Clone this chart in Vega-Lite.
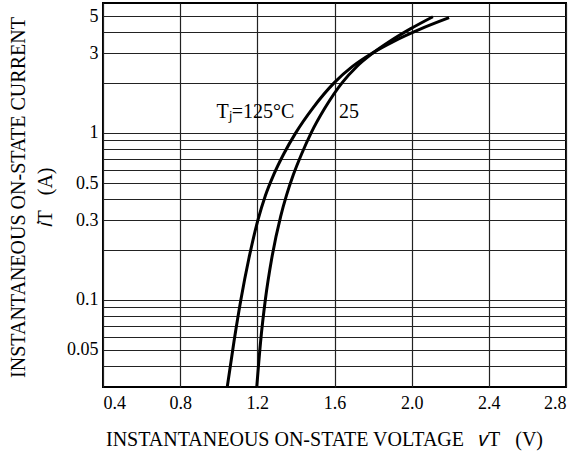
{
  "$schema": "https://vega.github.io/schema/vega-lite/v6.json",
  "width": 463,
  "height": 384,
  "autosize": {"type": "none"},
  "padding": {"left": 103, "top": 3, "right": 20, "bottom": 67},
  "background": "white",
  "config": {
    "view": {"stroke": "black", "strokeWidth": 2},
    "font": "Liberation Serif"
  },
  "datasets": {
    "curves": [
      {"series": "125", "v": 1.044, "i": 0.03},
      {"series": "125", "v": 1.079, "i": 0.0562},
      {"series": "125", "v": 1.1147, "i": 0.1},
      {"series": "125", "v": 1.1567, "i": 0.1778},
      {"series": "125", "v": 1.2029, "i": 0.2999},
      {"series": "125", "v": 1.2419, "i": 0.4217},
      {"series": "125", "v": 1.285, "i": 0.5623},
      {"series": "125", "v": 1.3374, "i": 0.7499},
      {"series": "125", "v": 1.399, "i": 1.0},
      {"series": "125", "v": 1.4886, "i": 1.4125},
      {"series": "125", "v": 1.5992, "i": 2.0},
      {"series": "125", "v": 1.6934, "i": 2.5003},
      {"series": "125", "v": 1.7946, "i": 2.999},
      {"series": "125", "v": 1.9097, "i": 3.548},
      {"series": "125", "v": 2.0414, "i": 4.169},
      {"series": "125", "v": 2.194, "i": 4.898},
      {"series": "25", "v": 1.197, "i": 0.03},
      {"series": "25", "v": 1.217, "i": 0.0562},
      {"series": "25", "v": 1.2415, "i": 0.1},
      {"series": "25", "v": 1.275, "i": 0.1778},
      {"series": "25", "v": 1.321, "i": 0.3162},
      {"series": "25", "v": 1.351, "i": 0.4217},
      {"series": "25", "v": 1.387, "i": 0.5623},
      {"series": "25", "v": 1.43, "i": 0.7499},
      {"series": "25", "v": 1.479, "i": 1.0},
      {"series": "25", "v": 1.551, "i": 1.4125},
      {"series": "25", "v": 1.64, "i": 2.0},
      {"series": "25", "v": 1.716, "i": 2.5},
      {"series": "25", "v": 1.798, "i": 3.0},
      {"series": "25", "v": 1.889, "i": 3.548},
      {"series": "25", "v": 1.993, "i": 4.198},
      {"series": "25", "v": 2.11, "i": 4.966}
    ],
    "labels": [
      {"text": "Tⱼ=125°C", "v": 1.19, "i": 1.34},
      {"text": "25", "v": 1.675, "i": 1.34}
    ]
  },
  "layer": [
    {
      "data": {"name": "curves"},
      "mark": {"type": "line", "color": "black", "strokeWidth": 3, "interpolate": "monotone", "clip": true},
      "encoding": {
        "x": {
          "field": "v", "type": "quantitative",
          "scale": {"domain": [0.4, 2.8], "nice": false, "zero": false},
          "axis": {
            "values": [0.4, 0.6, 0.8, 1.0, 1.2, 1.4, 1.6, 1.8, 2.0, 2.2, 2.4, 2.6, 2.8],
            "labelExpr": "round(datum.value*10) % 4 == 0 ? format(datum.value, '.1f') : ''",
            "grid": true, "gridColor": "#222", "gridWidth": 1.2, "gridOpacity": 1,
            "ticks": false, "domain": false,
            "labelFont": "Liberation Serif", "labelFontSize": 18, "labelColor": "black",
            "labelPadding": 7,
            "title": "INSTANTANEOUS ON-STATE VOLTAGE\u00a0\u00a0\u00a0𝑣T\u00a0\u00a0\u00a0(V)",
            "titleFont": "Liberation Serif", "titleFontSize": 20, "titleFontWeight": "normal",
            "titleColor": "black", "titlePadding": 17, "titleX": 221
          }
        },
        "y": {
          "field": "i", "type": "quantitative",
          "scale": {"type": "log", "domain": [0.03, 6], "nice": false},
          "axis": {
            "values": [0.04, 0.05, 0.06, 0.07, 0.08, 0.09, 0.1, 0.2, 0.3, 0.4, 0.5, 0.6, 0.7, 0.8, 0.9, 1, 2, 3, 4, 5],
            "labelExpr": "indexof([0.05, 0.1, 0.3, 0.5, 1, 3, 5], datum.value) >= 0 ? format(datum.value, '') : ''",
            "grid": true, "gridColor": "#222", "gridWidth": 1.2, "gridOpacity": 1,
            "ticks": false, "domain": false,
            "labelFont": "Liberation Serif", "labelFontSize": 18, "labelColor": "black",
            "labelPadding": 5,
            "title": ["INSTANTANEOUS ON-STATE CURRENT", "𝑖T\u00a0\u00a0\u00a0(A)"],
            "titleFont": "Liberation Serif", "titleFontSize": 20, "titleFontWeight": "normal",
            "titleColor": "black", "titleLineHeight": 27,
            "titleX": -85, "titleY": 194, "titleAngle": -90, "titleAlign": "center", "titleBaseline": "middle"
          }
        },
        "detail": {"field": "series"}
      }
    },
    {
      "data": {"name": "labels"},
      "mark": {"type": "text", "font": "Liberation Serif", "fontSize": 20, "color": "black", "align": "center", "baseline": "middle"},
      "encoding": {
        "x": {"field": "v", "type": "quantitative"},
        "y": {"field": "i", "type": "quantitative"},
        "text": {"field": "text"}
      }
    }
  ]
}
